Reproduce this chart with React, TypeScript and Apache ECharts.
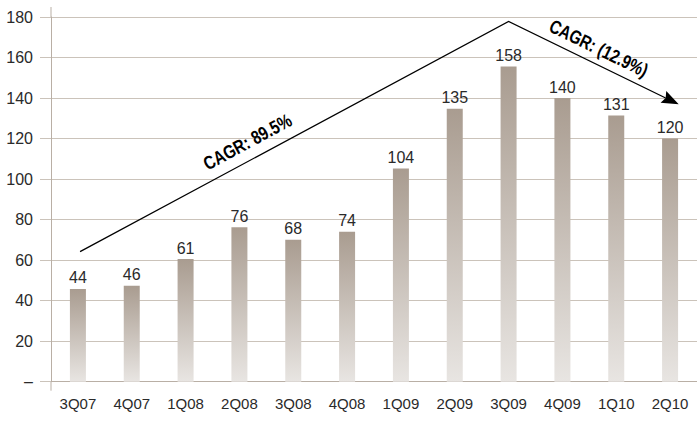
import React, { useEffect, useRef } from "react";
import * as echarts from "echarts";

const categories = ["3Q07", "4Q07", "1Q08", "2Q08", "3Q08", "4Q08", "1Q09", "2Q09", "3Q09", "4Q09", "1Q10", "2Q10"];
// bar heights as drawn in the picture
const barValues = [45.8, 47.3, 60.5, 76.2, 70, 74, 105.2, 134.7, 155.6, 140, 131.4, 120];
// printed value labels
const barLabels = ["44", "46", "61", "76", "68", "74", "104", "135", "158", "140", "131", "120"];
const yMin = 0;
const yMax = 180;
const yStep = 20;
// trend arrow anchor points: [category position, value]
const trendPoints = [
  [0.04, 64.2],
  [8.0, 177.8],
  [11.16, 136.9],
];
const trendLabels = ["CAGR: 89.5%", "CAGR: (12.9%)"];

export default function App() {
  const ref = useRef<HTMLDivElement>(null);
  useEffect(() => {
    const chart = echarts.init(ref.current!, null, { renderer: "svg" });
    const font = "Liberation Sans, Arial, sans-serif";
    const gridColor = "#cbc3ba";
    const axisColor = "#b9afa5";
    chart.setOption({
      animation: false,
      grid: { left: 51, right: -10, top: 17, bottom: 51.3 },
      xAxis: [
        {
          type: "category",
          data: categories,
          axisLine: { lineStyle: { color: axisColor, width: 1 } },
          axisTick: { length: 6, lineStyle: { color: axisColor } },
          axisLabel: { fontSize: 15, color: "#2a2a2a", margin: 14, fontFamily: font },
        },
        {
          type: "category",
          data: categories,
          position: "bottom",
          axisLine: { show: false },
          axisTick: { inside: true, length: 5, lineStyle: { color: axisColor } },
          axisLabel: { show: false },
          splitLine: { show: false },
        },
        { type: "value", min: -0.5, max: 11.5, show: false },
      ],
      yAxis: {
        type: "value",
        min: yMin,
        max: yMax,
        interval: yStep,
        axisLine: { show: true, onZero: false, lineStyle: { color: axisColor } },
        axisTick: { show: true, length: 11, lineStyle: { color: gridColor } },
        splitLine: { lineStyle: { color: gridColor } },
        axisLabel: {
          fontSize: 16,
          color: "#2a2a2a",
          margin: 18,
          fontFamily: font,
          formatter: (v: number) => (v === 0 ? "–" : String(v)),
        },
      },
      series: [
        {
          type: "bar",
          data: barValues,
          barWidth: 16,
          itemStyle: {
            color: new echarts.graphic.LinearGradient(0, 0, 0, 1, [
              { offset: 0, color: "#a99c90" },
              { offset: 1, color: "#e8e5e2" },
            ]),
          },
          label: {
            show: true,
            position: "top",
            distance: 3,
            fontSize: 16,
            color: "#2a2a2a",
            fontFamily: font,
            formatter: (p: any) => barLabels[p.dataIndex],
          },
        },
      ],
    });

    const pts = trendPoints.map((p) => chart.convertToPixel({ xAxisIndex: 2, yAxisIndex: 0 } as any, p) as number[]);
    const top = chart.convertToPixel({ yAxisIndex: 0 } as any, yMax) as number;
    const bot = chart.convertToPixel({ yAxisIndex: 0 } as any, yMin) as number;
    const axX = chart.convertToPixel({ xAxisIndex: 2 } as any, -0.5) as number;

    const tip = pts[2];
    const prev = pts[1];
    const dx = tip[0] - prev[0];
    const dy = tip[1] - prev[1];
    const len = Math.hypot(dx, dy);
    const ux = dx / len;
    const uy = dy / len;
    const headLen = 17;
    const headW = 6.5;
    const base = [tip[0] - ux * headLen, tip[1] - uy * headLen];
    const notch = [base[0] + ux * 2.5, base[1] + uy * 2.5];

    const labelAt = (a: number[], b: number[], t: number, d: number, text: string) => {
      const sx = b[0] - a[0];
      const sy = b[1] - a[1];
      const l = Math.hypot(sx, sy);
      const nx = sy / l;
      const ny = -sx / l;
      return {
        type: "text",
        x: a[0] + sx * t + nx * d,
        y: a[1] + sy * t + ny * d,
        rotation: -Math.atan2(sy, sx),
        scaleX: 0.8,
        style: {
          text,
          fontSize: 19,
          fontWeight: "bold",
          fontFamily: "Liberation Sans, Arial, sans-serif",
          fill: "#000",
          align: "center",
          verticalAlign: "middle",
        },
      };
    };

    chart.setOption({
      graphic: [
        { type: "line", shape: { x1: axX, y1: top - 10, x2: axX, y2: top }, style: { stroke: axisColor, lineWidth: 1 } },
        { type: "line", shape: { x1: axX, y1: bot, x2: axX, y2: bot + 9 }, style: { stroke: axisColor, lineWidth: 1 } },
        {
          type: "polyline",
          shape: { points: [pts[0], pts[1], notch] },
          style: { stroke: "#000", lineWidth: 1.3, fill: null },
        },
        {
          type: "polygon",
          shape: {
            points: [
              tip,
              [base[0] - uy * headW, base[1] + ux * headW],
              notch,
              [base[0] + uy * headW, base[1] - ux * headW],
            ],
          },
          style: { fill: "#000" },
        },
        labelAt(pts[0], pts[1], 0.41, 17.5, trendLabels[0]),
        labelAt(pts[1], pts[2], 0.49, 15.5, trendLabels[1]),
      ],
    });

    return () => chart.dispose();
  }, []);
  return <div ref={ref} style={{ position: "absolute", left: 0, top: 0, width: 697, height: 433 }} />;
}
